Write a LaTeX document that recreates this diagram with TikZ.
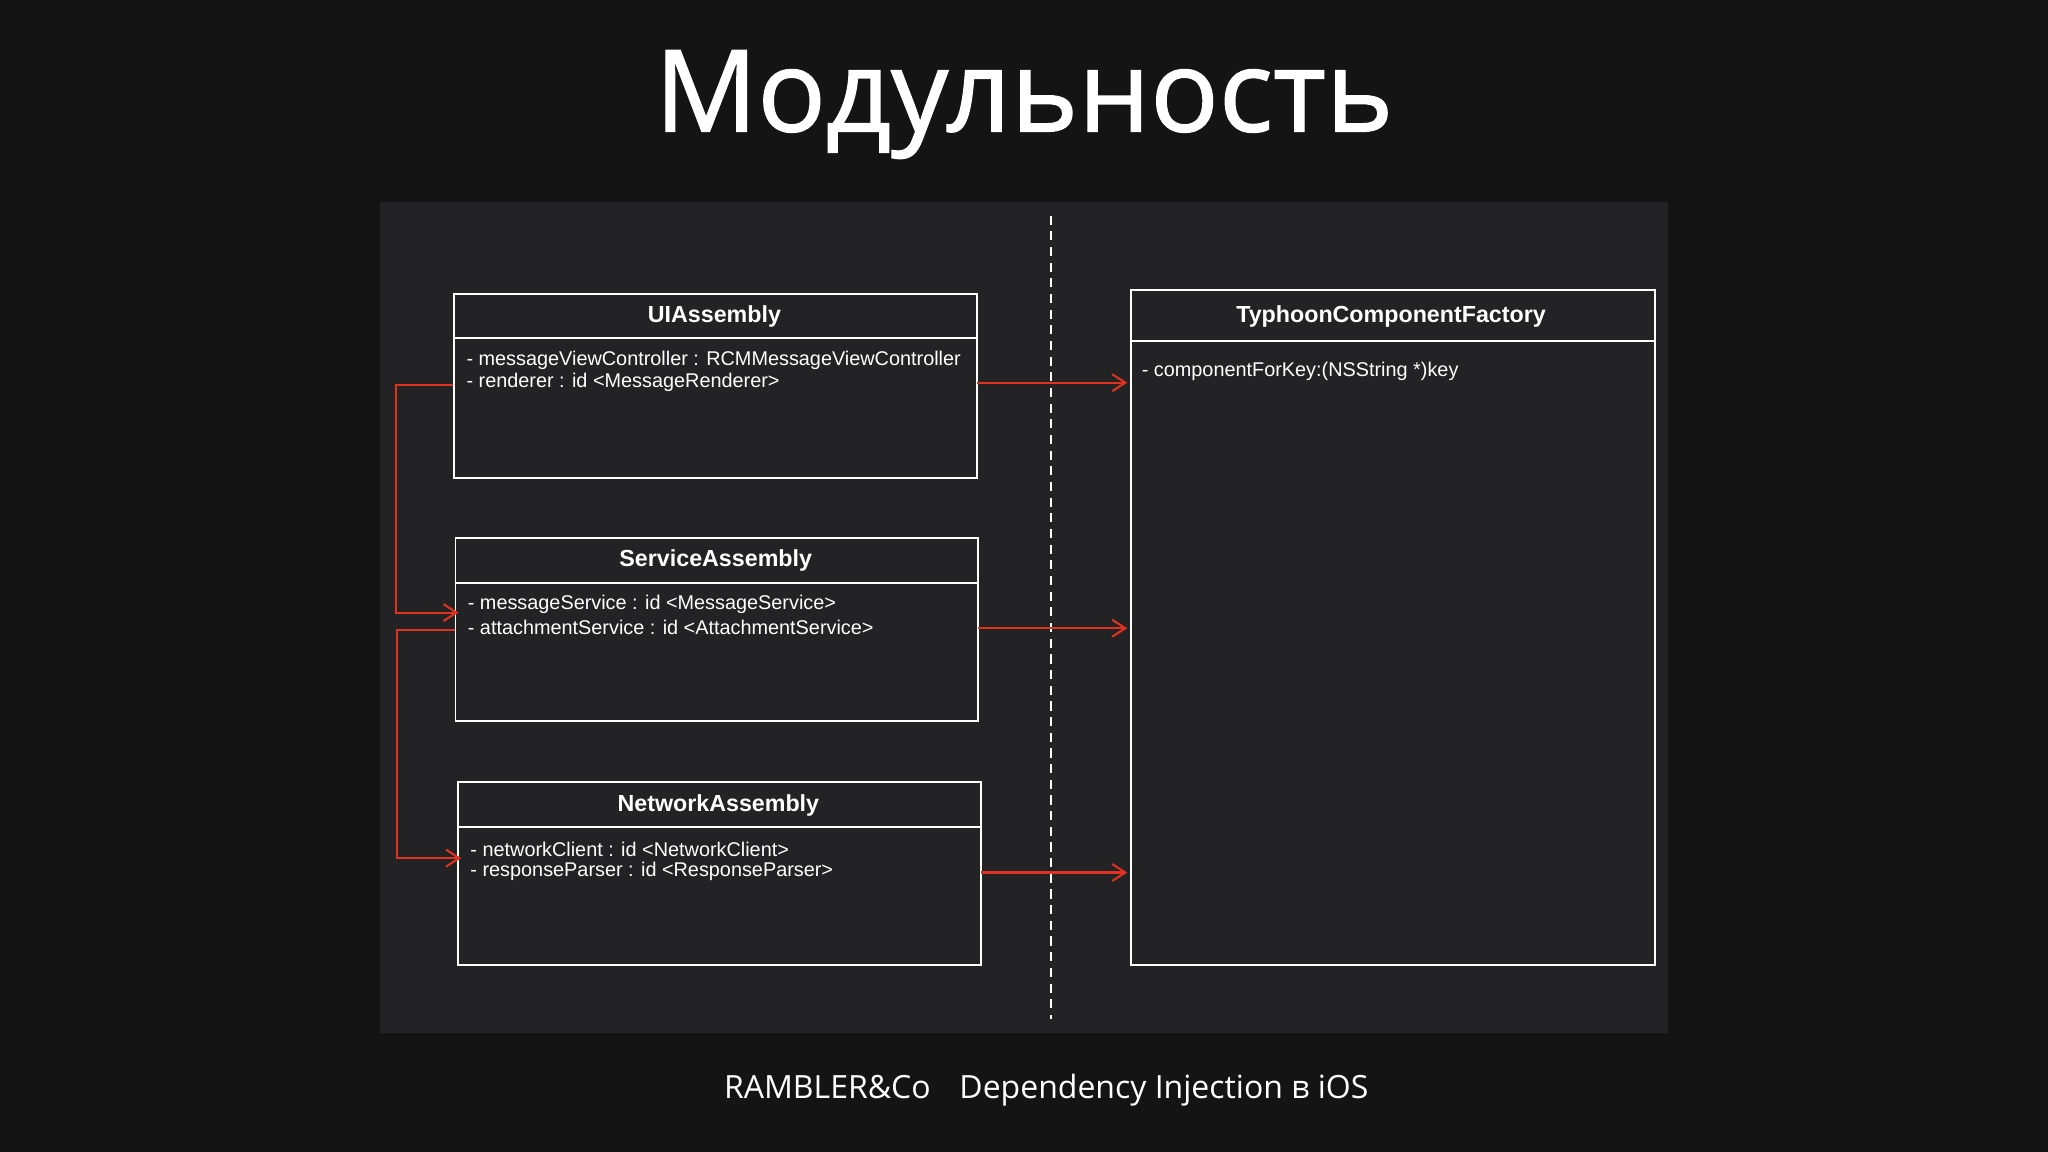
\documentclass[tikz,border=0pt]{standalone}
\usepackage{fontspec}
\setmainfont{Liberation Sans}
\newfontfamily\titlefont{Open Sans}
\newfontfamily\titlefontb{Open Sans}[FakeBold=1.2]
\usetikzlibrary{arrows.meta}
\definecolor{bgc}{HTML}{141414}
\definecolor{panel}{HTML}{232325}
\definecolor{redc}{HTML}{E0321E}
\begin{document}
\begin{tikzpicture}[x=1pt,y=-1pt,
  box/.style={draw=white,line width=1.5pt,fill=panel,anchor=north west,inner sep=0pt},
  hdr/.style={text=white,font=\fontsize{17.8}{20}\selectfont\bfseries},
  itm/.style={text=white,font=\fontsize{15.2}{17.5}\selectfont,anchor=west,inner sep=0pt},
  conn/.style={draw=redc,line width=1.6pt,-{Straight Barb[length=10pt,width=13pt]}}]
\fill[bgc] (0,0) rectangle (1568,882);
\useasboundingbox (0,0) rectangle (1568,882);
\fill[panel] (291,155) rectangle (1277,791);
\node[text=white,font=\titlefontb\fontsize{87}{95}\selectfont] (title) at (784,80) {Модульность};
\draw[white,line width=1.6pt,dash pattern=on 7pt off 5pt] (805,165) -- (805,780);
% boxes
\node[box,minimum width=400pt,minimum height=141pt] (ui) at (347,224) {};
\draw[white,line width=1.5pt] (347,259) -- (747,259);
\node[hdr] (uih) at (547,242.5) {UIAssembly};
\node[itm] (ui1) at (357,276) {- messageViewController : RCMMessageViewController};
\node[itm] (ui2) at (357,293) {- renderer : id <MessageRenderer>};
\node[box,minimum width=400pt,minimum height=140pt] (sv) at (348,411) {};
\draw[white,line width=1.5pt] (348,446) -- (748,446);
\node[hdr] (svh) at (548,429.5) {ServiceAssembly};
\node[itm] (sv1) at (358,463) {- messageService : id <MessageService>};
\node[itm] (sv2) at (358,480) {- attachmentService : id <AttachmentService>};
\node[box,minimum width=400pt,minimum height=140pt] (nw) at (350,598) {};
\draw[white,line width=1.5pt] (350,633) -- (750,633);
\node[hdr] (nwh) at (550,616.5) {NetworkAssembly};
\node[itm] (nw1) at (360,650) {- networkClient : id <NetworkClient>};
\node[itm] (nw2) at (360,667) {- responseParser : id <ResponseParser>};
\node[box,minimum width=401pt,minimum height=517pt] (ty) at (865,221) {};
\draw[white,line width=1.5pt] (865,261) -- (1266,261);
\node[hdr] (tyh) at (1065,242.5) {TyphoonComponentFactory};
\node[itm] (ty1) at (874,284.5) {- componentForKey:(NSString *)key};
% coordinates
\coordinate (a1) at (748,293); \coordinate (b1) at (863,293);
\coordinate (a2) at (749,481); \coordinate (b2) at (863,481);
\coordinate (a3) at (751,668); \coordinate (b3) at (863,668);
\draw[conn] (a1) -- (b1);
\draw[conn] (a2) -- (b2);
\draw[conn] (a3) -- (b3);
\coordinate (l1) at (347,295); \coordinate (l1e) at (351,469);
\coordinate (l2) at (348,482); \coordinate (l2e) at (353,657);
\draw[conn] (l1) -- (303,295) -- (303,469) -- (l1e);
\draw[conn] (l2) -- (304,482) -- (304,657) -- (l2e);
\node[text=white,font=\titlefont\fontsize{24.5}{28}\selectfont] (foot) at (801,835) {RAMBLER\&Co\hspace{22pt}Dependency Injection в iOS};
\end{tikzpicture}
\end{document}
